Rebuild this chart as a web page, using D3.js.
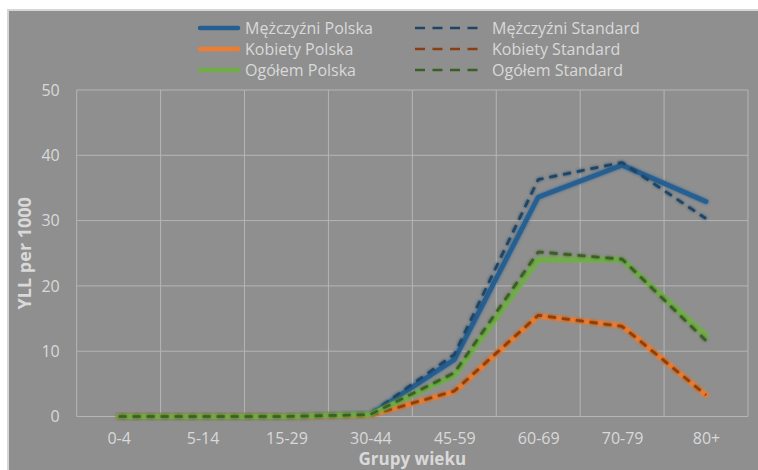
<!DOCTYPE html>
<html>
<head>
<meta charset="utf-8">
<script src="https://cdn.jsdelivr.net/npm/d3@7"></script>
<style>
  body { margin: 0; background: #fff; }
  text { font-family: "Open Sans", "Noto Sans", sans-serif; }
</style>
</head>
<body>
<div id="chart"></div>
<script>
// age groups and values (YLL per 1000)
var categories = ["0-4", "5-14", "15-29", "30-44", "45-59", "60-69", "70-79", "80+"];
var menPolska     = [0, 0, 0, 0.3, 8.7, 33.6, 38.5, 32.9];
var menStandard   = [0, 0, 0, 0.4, 9.5, 36.3, 38.9, 30.3];
var womenPolska   = [0, 0, 0, 0.2, 3.8, 15.4, 13.9, 3.3];
var womenStandard = [0, 0, 0, 0.2, 3.9, 15.5, 13.8, 3.3];
var totalPolska   = [0, 0, 0, 0.3, 6.3, 24.0, 24.0, 12.4];
var totalStandard = [0, 0, 0, 0.3, 6.7, 25.2, 24.1, 11.6];
var yTicks = [0, 10, 20, 30, 40, 50];

var series = [
  {name: "Mężczyźni Polska",   values: menPolska,     color: "#255e91", dash: null},
  {name: "Mężczyźni Standard", values: menStandard,   color: "#1f4466", dash: "8,6"},
  {name: "Kobiety Polska",     values: womenPolska,   color: "#ed7d31", dash: null},
  {name: "Kobiety Standard",   values: womenStandard, color: "#8a3f10", dash: "8,6"},
  {name: "Ogółem Polska",      values: totalPolska,   color: "#70ad47", dash: null},
  {name: "Ogółem Standard",    values: totalStandard, color: "#3b5e25", dash: "8,6"}
];

var W = 758, H = 470;
var margin = {top: 90, right: 10, bottom: 53.5, left: 76.7};
var width = 748 - margin.left,
    height = 416.5 - margin.top;

var svg = d3.select("#chart").append("svg")
    .attr("width", W)
    .attr("height", H);

var defs = svg.append("defs");
var glow = defs.append("filter").attr("id", "glow")
    .attr("x", "-10%").attr("y", "-10%").attr("width", "120%").attr("height", "120%");
glow.append("feGaussianBlur").attr("in", "SourceGraphic").attr("stdDeviation", 1.6).attr("result", "b");
var merge = glow.append("feMerge");
merge.append("feMergeNode").attr("in", "b");
merge.append("feMergeNode").attr("in", "SourceGraphic");

// chart area
svg.append("rect")
    .attr("x", 8).attr("y", 10)
    .attr("width", W).attr("height", H)
    .attr("fill", "#8f8f8f")
    .attr("stroke", "#d6d6d6")
    .attr("stroke-width", 2);

var g = svg.append("g")
    .attr("transform", "translate(" + margin.left + "," + margin.top + ")");

var x = d3.scalePoint().domain(categories).range([0, width]).padding(0.5);
var xb = d3.scaleBand().domain(categories).range([0, width]);
var y = d3.scaleLinear().domain([0, 50]).range([height, 0]);

// grid
g.selectAll(".hgrid").data(yTicks).enter().append("line")
    .attr("x1", 0).attr("x2", width)
    .attr("y1", function(d) { return y(d); })
    .attr("y2", function(d) { return y(d); })
    .attr("stroke", "#b5b5b5").attr("stroke-width", 1);

var vlines = categories.map(function(c) { return xb(c); }).concat([width]);
g.selectAll(".vgrid").data(vlines).enter().append("line")
    .attr("x1", function(d) { return d; }).attr("x2", function(d) { return d; })
    .attr("y1", 0).attr("y2", height)
    .attr("stroke", "#b5b5b5").attr("stroke-width", 1);

// axes
var yAxis = d3.axisLeft(y).tickValues(yTicks).tickSize(0).tickPadding(17);
var yg = g.append("g").call(yAxis);
yg.select(".domain").remove();
yg.selectAll("text").attr("fill", "#d9d9d9").style("font-size", "16px");

var xAxis = d3.axisBottom(x).tickSize(0).tickPadding(16);
var xg = g.append("g").attr("transform", "translate(0," + height + ")").call(xAxis);
xg.select(".domain").remove();
xg.selectAll("text").attr("fill", "#d9d9d9").style("font-size", "16px");

svg.append("text")
    .attr("x", margin.left + width / 2).attr("y", 465)
    .attr("text-anchor", "middle")
    .attr("fill", "#d9d9d9")
    .style("font-size", "17px").style("font-weight", "bold")
    .text("Grupy wieku");

svg.append("text")
    .attr("transform", "translate(31," + (margin.top + height / 2) + ") rotate(-90)")
    .attr("text-anchor", "middle")
    .attr("fill", "#d9d9d9")
    .style("font-size", "18px").style("font-weight", "bold")
    .text("YLL per 1000");

// lines
var line = d3.line()
    .x(function(d, i) { return x(categories[i]); })
    .y(function(d) { return y(d); });

g.selectAll(".series").data(series).enter().append("path")
    .attr("d", function(d) { return line(d.values); })
    .attr("fill", "none")
    .attr("stroke", function(d) { return d.color; })
    .attr("stroke-width", function(d) { return d.dash ? 2.6 : 4.5; })
    .attr("stroke-dasharray", function(d) { return d.dash; })
    .attr("stroke-linejoin", "round")
    .attr("stroke-linecap", function(d) { return d.dash ? "butt" : "round"; })
    .attr("filter", "url(#glow)");

// legend: two columns
var legend = svg.append("g").selectAll("g").data(series).enter().append("g")
    .attr("transform", function(d, i) {
      var col = i % 2, row = Math.floor(i / 2);
      return "translate(" + (col === 0 ? 200 : 415) + "," + (28 + row * 21) + ")";
    });

legend.append("line")
    .attr("x1", 0)
    .attr("x2", function(d) { return d.dash ? 65 : 38; })
    .attr("stroke", function(d) { return d.color; })
    .attr("stroke-width", function(d) { return d.dash ? 2.6 : 4.5; })
    .attr("stroke-dasharray", function(d) { return d.dash ? "10,7.5" : null; })
    .attr("stroke-linecap", function(d) { return d.dash ? "butt" : "round"; });

legend.append("text")
    .attr("x", function(d) { return d.dash ? 77 : 45; })
    .attr("dy", "0.35em")
    .attr("fill", "#d9d9d9")
    .style("font-size", "16px")
    .text(function(d) { return d.name; });
</script>
</body>
</html>
